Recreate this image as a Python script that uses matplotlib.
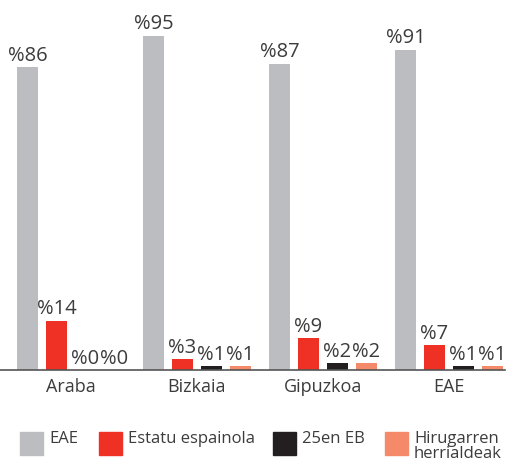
import numpy as np
import matplotlib.pyplot as plt
from matplotlib.patches import Rectangle

categories = ['Araba', 'Bizkaia', 'Gipuzkoa', 'EAE']
series_names = ['EAE', 'Estatu espainola', '25en EB', 'Hirugarren\nherrialdeak']
eae = [86, 95, 87, 91]
estatu = [14, 3, 9, 7]
eb25 = [0, 1, 2, 1]
hirugarren = [0, 1, 2, 1]
colors = ['#bcbdc0', '#ee3124', '#231f20', '#f58a6b']

plt.rcParams['font.family'] = ['Open Sans', 'DejaVu Sans']
text_color = '#3c3c3c'

W, H = 510, 473
fig = plt.figure(figsize=(W / 100, H / 100), dpi=100, facecolor='white')
base_y = 370
ax = fig.add_axes([0, (H - base_y) / H, 505 / W, base_y / H])

pitch = 0.23
width = 0.167
x = np.arange(len(categories))
all_series = [eae, estatu, eb25, hirugarren]
for i, vals in enumerate(all_series):
    pos = x + (i - 1.5) * pitch
    ax.bar(pos, vals, width=width, color=colors[i], zorder=2)
    for p, v in zip(pos, vals):
        ax.annotate('%' + str(v), (p, v), xytext=(0, 1), textcoords='offset points',
                    ha='center', va='bottom', fontsize=14.5, color=text_color)

ax.set_xlim(-71 / 126, (505 - 71) / 126)
ax.set_ylim(0, base_y / 3.52)
for s in ['top', 'right', 'left']:
    ax.spines[s].set_visible(False)
ax.spines['bottom'].set_color('#555555')
ax.spines['bottom'].set_linewidth(1.2)
ax.set_yticks([])
ax.set_xticks(x)
ax.set_xticklabels(categories, fontsize=13, color=text_color)
ax.tick_params(axis='x', length=0, pad=6)

# legend
leg_x = [20, 99, 273, 385]
for i, name in enumerate(series_names):
    fig.add_artist(Rectangle((leg_x[i] / W, 1 - 455 / H), 23 / W, 23 / H,
                             transform=fig.transFigure, color=colors[i]))
    fig.text((leg_x[i] + 29) / W, 1 - 431 / H, name, ha='left', va='top',
             fontsize=12, color=text_color, linespacing=0.95)

fig.savefig('out.png', dpi=100)
